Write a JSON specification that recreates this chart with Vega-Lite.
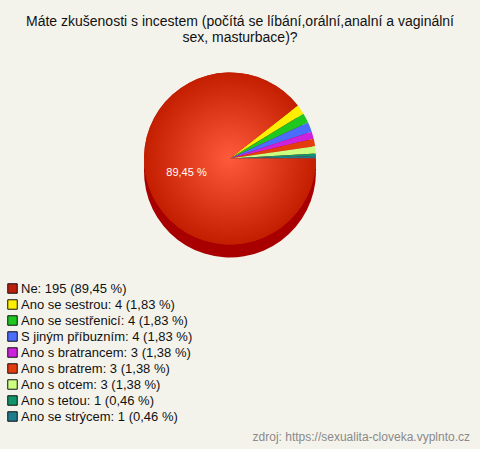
{
  "$schema": "https://vega.github.io/schema/vega-lite/v6.json",
  "width": 480,
  "height": 449,
  "autosize": {"type": "none"},
  "padding": 0,
  "background": "#f4f3eb",
  "config": {
    "view": {"stroke": "#222", "strokeWidth": 2},
    "font": "Liberation Sans"
  },
  "title": {
    "text": ["Máte zkušenosti s incestem (počítá se líbání,orální,analní a vaginální", "sex, masturbace)?"],
    "font": "Liberation Sans",
    "fontSize": 14,
    "fontWeight": "normal",
    "color": "#111",
    "anchor": "middle",
    "lineHeight": 16,
    "offset": -45
  },
  "layer": [
    {
      "data": {"name": "pie"},
      "mark": {"type": "arc", "radius": 86, "fill": "#a80000", "xOffset": -10, "yOffset": -53, "stroke": null},
      "encoding": {
        "theta": {"field": "n", "type": "quantitative", "stack": true, "scale": {"range": [1.5708, 7.854]}},
        "order": {"field": "i", "type": "quantitative", "sort": "ascending"}
      }
    },
    {
      "data": {"name": "pie"},
      "mark": {"type": "arc", "radius": 86, "xOffset": -10, "yOffset": -66, "stroke": null},
      "encoding": {
        "theta": {"field": "n", "type": "quantitative", "stack": true},
        "order": {"field": "i", "type": "quantitative", "sort": "ascending"},
        "color": {
          "field": "label",
          "type": "nominal",
          "sort": null,
          "scale": {
            "domain": ["Ne: 195 (89,45 %)", "Ano se sestrou: 4 (1,83 %)", "Ano se sestřenicí: 4 (1,83 %)", "S jiným příbuzním: 4 (1,83 %)", "Ano s bratrancem: 3 (1,38 %)", "Ano s bratrem: 3 (1,38 %)", "Ano s otcem: 3 (1,38 %)", "Ano s tetou: 1 (0,46 %)", "Ano se strýcem: 1 (0,46 %)"],
            "range": ["#bb200c", "#ffee00", "#1ec81e", "#4a6cff", "#cc22dd", "#e43c0c", "#ccff80", "#11946a", "#1e7c8c"]
          },
          "legend": {
            "orient": "none",
            "legendX": 6,
            "legendY": 282,
            "title": null,
            "symbolType": "square",
            "symbolSize": 90,
            "symbolStrokeColor": "#111",
            "symbolStrokeWidth": 1,
            "symbolOpacity": 1,
            "labelFont": "Liberation Sans",
            "labelFontSize": 13,
            "labelColor": "#111",
            "labelLimit": 400,
            "labelOffset": 2,
            "rowPadding": 1
          }
        }
      }
    },
    {
      "data": {"name": "pie"},
      "mark": {
        "type": "arc",
        "radius": 86,
        "xOffset": -10,
        "yOffset": -66,
        "stroke": null,
        "fill": {
          "gradient": "radial",
          "x1": 0.5, "y1": 0.5, "r1": 0,
          "x2": 0.5, "y2": 0.5, "r2": 0.5,
          "stops": [
            {"offset": 0, "color": "#ff5a3c"},
            {"offset": 1, "color": "#c41e00"}
          ]
        }
      },
      "encoding": {
        "theta": {"field": "n", "type": "quantitative", "stack": true},
        "order": {"field": "i", "type": "quantitative", "sort": "ascending"},
        "opacity": {
          "condition": {"test": "datum.i === 0", "value": 1},
          "value": 0
        }
      }
    },
    {
      "data": {"name": "pie"},
      "mark": {"type": "text", "radius": 46, "xOffset": -10, "yOffset": -66, "color": "#ffffff", "fontSize": 11, "font": "Liberation Sans"},
      "encoding": {
        "theta": {"field": "n", "type": "quantitative", "stack": true},
        "order": {"field": "i", "type": "quantitative", "sort": "ascending"},
        "text": {"field": "pielabel", "type": "nominal"}
      }
    },
    {
      "data": {"values": [{"src": "zdroj: https://sexualita-cloveka.vyplnto.cz"}]},
      "mark": {"type": "text", "x": {"expr": "width - 10"}, "y": {"expr": "height - 12"}, "align": "right", "baseline": "middle", "color": "#8a8a8a", "fontSize": 12, "font": "Liberation Sans"},
      "encoding": {
        "text": {"field": "src", "type": "nominal"}
      }
    }
  ],
  "datasets": {
    "pie": [
      {"i": 0, "label": "Ne: 195 (89,45 %)", "n": 195, "pielabel": "89,45 %"},
      {"i": 1, "label": "Ano se sestrou: 4 (1,83 %)", "n": 4, "pielabel": ""},
      {"i": 2, "label": "Ano se sestřenicí: 4 (1,83 %)", "n": 4, "pielabel": ""},
      {"i": 3, "label": "S jiným příbuzním: 4 (1,83 %)", "n": 4, "pielabel": ""},
      {"i": 4, "label": "Ano s bratrancem: 3 (1,38 %)", "n": 3, "pielabel": ""},
      {"i": 5, "label": "Ano s bratrem: 3 (1,38 %)", "n": 3, "pielabel": ""},
      {"i": 6, "label": "Ano s otcem: 3 (1,38 %)", "n": 3, "pielabel": ""},
      {"i": 7, "label": "Ano s tetou: 1 (0,46 %)", "n": 1, "pielabel": ""},
      {"i": 8, "label": "Ano se strýcem: 1 (0,46 %)", "n": 1, "pielabel": ""}
    ]
  }
}
